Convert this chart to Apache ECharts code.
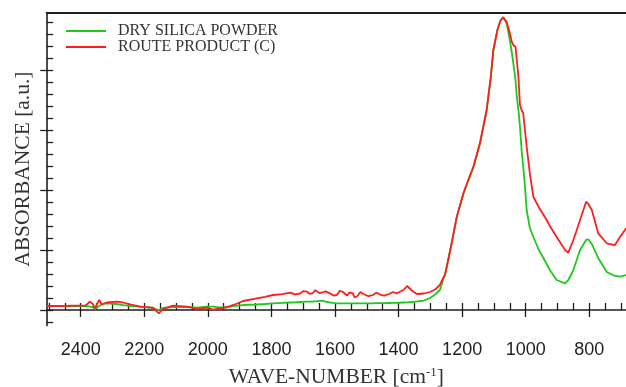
<!DOCTYPE html>
<html>
<head>
<meta charset="utf-8">
<script src="https://cdn.jsdelivr.net/npm/echarts@6/dist/echarts.min.js"></script>
<style>
  html, body { margin: 0; padding: 0; background: #fff; }
  #chart { width: 626px; height: 387px; }
</style>
</head>
<body>
<div id="chart"></div>
<script>
// wave-number grid shared by both spectra (cm-1)
var wavenumbers = [
  2505, 2460, 2420, 2385, 2371, 2362, 2355, 2342, 2334, 2318, 2287, 2267, 2245, 2213,
  2173, 2154, 2141, 2110, 2066, 2034, 2003, 1984, 1962, 1940, 1915, 1889,
  1846, 1820, 1795, 1765, 1741, 1725, 1710, 1700, 1688, 1680, 1670, 1662, 1656, 1648,
  1640, 1630, 1616, 1605, 1594, 1585, 1575, 1562, 1555, 1545, 1538, 1531, 1520, 1510,
  1495, 1480, 1470, 1458, 1445, 1430, 1418, 1405, 1385,
  1373, 1355, 1342, 1320, 1301, 1285, 1270, 1260, 1254, 1244,
  1233, 1217, 1196, 1175, 1165, 1144, 1123, 1110, 1102, 1089, 1080, 1071, 1060, 1050,
  1044, 1039, 1032, 1028, 1023, 1018, 1013, 1008, 1004, 997, 987, 976, 960, 934,
  924, 903, 876, 866, 850, 829, 810, 803, 792, 772, 745, 719, 703, 684
];

// absorbance [a.u.]
var drySilica = [
  0.067, 0.067, 0.067, 0.067, 0.058, 0.05, 0.017, 0.067, 0.092, 0.112, 0.1, 0.083, 0.067, 0.055,
  0.033, 0.0, 0.033, 0.05, 0.05, 0.038, 0.055, 0.055, 0.042, 0.042, 0.067, 0.083,
  0.092, 0.1, 0.112, 0.12, 0.125, 0.128, 0.133, 0.135, 0.138, 0.14, 0.142, 0.145, 0.15, 0.152,
  0.155, 0.14, 0.125, 0.118, 0.112, 0.112, 0.112, 0.112, 0.112, 0.112, 0.112, 0.112, 0.112, 0.112,
  0.112, 0.112, 0.113, 0.113, 0.115, 0.117, 0.118, 0.12, 0.125,
  0.128, 0.133, 0.142, 0.158, 0.2, 0.258, 0.333, 0.5, 0.583, 0.833,
  1.112, 1.55, 1.933, 2.233, 2.367, 2.767, 3.317, 3.867, 4.317, 4.667, 4.817, 4.878, 4.778, 4.5,
  4.3, 4.112, 3.833, 3.555, 3.333, 3.055, 2.667, 2.388, 2.167, 1.667, 1.367, 1.217, 1.017, 0.767,
  0.667, 0.5, 0.445, 0.5, 0.667, 1.0, 1.167, 1.178, 1.1, 0.867, 0.633, 0.567, 0.555, 0.583
];

var routeProduct = [
  0.067, 0.067, 0.072, 0.075, 0.138, 0.1, 0.028, 0.167, 0.095, 0.125, 0.138, 0.125, 0.095, 0.055,
  0.038, -0.055, 0.017, 0.072, 0.055, 0.017, 0.038, 0.008, 0.028, 0.05, 0.092, 0.15,
  0.195, 0.22, 0.25, 0.265, 0.288, 0.262, 0.275, 0.315, 0.305, 0.27, 0.283, 0.33, 0.362, 0.28,
  0.292, 0.31, 0.278, 0.24, 0.25, 0.32, 0.3, 0.242, 0.29, 0.283, 0.21, 0.225, 0.3, 0.267,
  0.23, 0.25, 0.29, 0.258, 0.24, 0.267, 0.3, 0.278, 0.333,
  0.4, 0.308, 0.267, 0.275, 0.3, 0.342, 0.417, 0.533, 0.583, 0.833,
  1.112, 1.55, 1.95, 2.25, 2.383, 2.783, 3.333, 3.883, 4.333, 4.667, 4.817, 4.878, 4.805, 4.617,
  4.472, 4.417, 4.383, 4.167, 3.888, 3.417, 3.333, 3.283, 3.25, 2.722, 2.278, 1.888, 1.722, 1.5,
  1.4, 1.222, 1.0, 0.955, 1.167, 1.5, 1.805, 1.767, 1.667, 1.278, 1.112, 1.083, 1.222, 1.362
];

var seriesNames = ['DRY SILICA POWDER', 'ROUTE PRODUCT (C)'];
var xTickLabels = [2400, 2200, 2000, 1800, 1600, 1400, 1200, 1000, 800];
var yMajorTicks = [0, 1, 2, 3, 4];

var X_MIN = 684.5, X_MAX = 2507;
var Y_MIN = -0.26, Y_MAX = 4.955;

var xMinor = [];
for (var v = 700; v <= 2500; v += 50) xMinor.push(v);
var yMinor = [];
for (var k = -1; k <= 24; k++) yMinor.push(+(k * 0.2).toFixed(1));

var ink = '#1e1e1e';
var serif = '"Liberation Serif", "Times New Roman", serif';
var sans = '"Liberation Sans", Arial, sans-serif';

function pairs(ys) {
  return wavenumbers.map(function (w, i) { return [w, ys[i]]; });
}

var chart = echarts.init(document.getElementById('chart'));

chart.setOption({
  animation: false,
  backgroundColor: '#fff',
  grid: {
    left: 46.7, top: 12.7, right: 0, bottom: 61.4,
    containLabel: false, outerBoundsMode: 'none'
  },
  legend: {
    orient: 'vertical',
    left: 66,
    top: 23,
    padding: 0,
    icon: 'rect',
    itemWidth: 40,
    itemHeight: 2,
    itemGap: 0,
    data: seriesNames,
    textStyle: {
      fontFamily: serif, fontSize: 16, color: '#333', lineHeight: 15,
      padding: [0, 0, 0, 7]
    }
  },
  xAxis: [
    {
      type: 'value', inverse: true, min: X_MIN, max: X_MAX, position: 'bottom',
      axisLine: { show: true, lineStyle: { color: ink, width: 1.6 } },
      axisTick: { show: true, inside: true, length: 7, customValues: xMinor,
        lineStyle: { color: ink, width: 1.3 } },
      axisLabel: { show: false },
      splitLine: { show: false },
      name: 'WAVE-NUMBER [cm{sup|-1}]',
      nameLocation: 'middle',
      nameGap: 40,
      nameTextStyle: {
        fontFamily: serif, fontSize: 21.5, color: '#333',
        rich: { sup: { fontFamily: serif, fontSize: 13, color: '#333', padding: [0, 0, 10, 0] } }
      }
    },
    {
      type: 'value', inverse: true, min: X_MIN, max: X_MAX, position: 'bottom',
      axisLine: { show: false },
      axisTick: { show: true, inside: false, length: 7, customValues: xTickLabels,
        lineStyle: { color: ink, width: 1.3 } },
      axisLabel: { show: true, customValues: xTickLabels, margin: 15,
        fontFamily: sans, fontSize: 18, color: '#222',
        formatter: function (val) { return String(val); } },
      splitLine: { show: false }
    },
    {
      type: 'value', inverse: true, min: X_MIN, max: X_MAX, position: 'top',
      axisLine: { show: true, lineStyle: { color: ink, width: 2 } },
      axisTick: { show: false }, axisLabel: { show: false }, splitLine: { show: false }
    }
  ],
  yAxis: [
    {
      type: 'value', min: Y_MIN, max: Y_MAX, position: 'left',
      axisLine: { show: true, lineStyle: { color: ink, width: 1.6 } },
      axisTick: { show: true, inside: true, length: 6.5, customValues: yMinor,
        lineStyle: { color: ink, width: 1.3 } },
      axisLabel: { show: false },
      splitLine: { show: false },
      name: 'ABSORBANCE [a.u.]',
      nameLocation: 'middle',
      nameGap: 12,
      nameTextStyle: { fontFamily: serif, fontSize: 21.5, color: '#333' }
    },
    {
      type: 'value', min: Y_MIN, max: Y_MAX, position: 'left',
      axisLine: { show: false },
      axisTick: { show: true, inside: false, length: 6.5, customValues: yMajorTicks,
        lineStyle: { color: ink, width: 1.3 } },
      axisLabel: { show: false },
      splitLine: { show: false }
    }
  ],
  series: [
    {
      name: seriesNames[0], type: 'line', symbol: 'none',
      xAxisIndex: 0, yAxisIndex: 0,
      lineStyle: { color: '#1ec81e', width: 1.8 },
      itemStyle: { color: '#1ec81e' },
      data: pairs(drySilica), z: 2
    },
    {
      name: seriesNames[1], type: 'line', symbol: 'none',
      xAxisIndex: 0, yAxisIndex: 0,
      lineStyle: { color: '#ff1e1e', width: 1.8 },
      itemStyle: { color: '#ff1e1e' },
      data: pairs(routeProduct), z: 3
    }
  ]
});
</script>
</body>
</html>
